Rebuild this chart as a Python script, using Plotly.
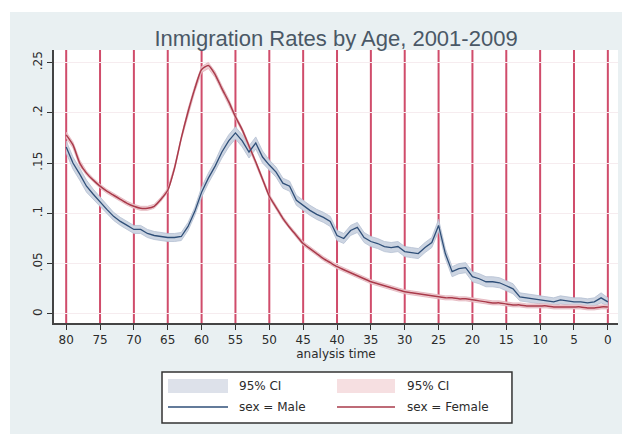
import plotly.graph_objects as go

# Age (analysis time), counting down from 80 to 0
ages = list(range(80, -1, -1))

# Immigration rate, males (ages 80 .. 0)
male_rate = [
    0.166, 0.150, 0.139, 0.127, 0.119, 0.111, 0.104, 0.097, 0.092, 0.088,
    0.084, 0.084, 0.080, 0.078, 0.077, 0.076, 0.076, 0.077, 0.087, 0.102,
    0.121, 0.135, 0.147, 0.161, 0.172, 0.180, 0.172, 0.161, 0.170, 0.156,
    0.148, 0.141, 0.130, 0.127, 0.113, 0.108, 0.103, 0.099, 0.096, 0.092,
    0.078, 0.075, 0.083, 0.086, 0.076, 0.072, 0.070, 0.067, 0.066, 0.067,
    0.062, 0.061, 0.060, 0.066, 0.071, 0.088, 0.060, 0.042, 0.045, 0.046,
    0.037, 0.035, 0.032, 0.032, 0.031, 0.028, 0.025, 0.017, 0.016, 0.015,
    0.014, 0.013, 0.012, 0.014, 0.013, 0.012, 0.012, 0.011, 0.012, 0.016,
    0.012,
]

# Half-width of the male 95% confidence interval (ages 80 .. 0)
male_ci_half = [
    0.006, 0.006, 0.006, 0.006, 0.005, 0.005, 0.004, 0.004, 0.004, 0.004,
    0.004, 0.004, 0.004, 0.004, 0.004, 0.004, 0.004, 0.004, 0.004, 0.004,
    0.005, 0.005, 0.005, 0.006, 0.006, 0.006, 0.006, 0.006, 0.006, 0.006,
    0.005, 0.005, 0.005, 0.005, 0.005, 0.005, 0.005, 0.005, 0.005, 0.005,
    0.005, 0.005, 0.005, 0.005, 0.005, 0.005, 0.005, 0.005, 0.005, 0.005,
    0.005, 0.005, 0.005, 0.005, 0.005, 0.006, 0.005, 0.005, 0.005, 0.005,
    0.005, 0.005, 0.005, 0.005, 0.005, 0.005, 0.005, 0.004, 0.004, 0.004,
    0.004, 0.004, 0.004, 0.004, 0.004, 0.004, 0.004, 0.004, 0.004, 0.005,
    0.004,
]

# Immigration rate, females (ages 80 .. 0)
female_rate = [
    0.178, 0.168, 0.150, 0.140, 0.133, 0.127, 0.122, 0.118, 0.114, 0.110,
    0.107, 0.105, 0.105, 0.107, 0.114, 0.123, 0.145, 0.175, 0.201, 0.224,
    0.243, 0.247, 0.238, 0.224, 0.211, 0.196, 0.183, 0.167, 0.151, 0.134,
    0.117, 0.106, 0.095, 0.086, 0.078, 0.070, 0.065, 0.060, 0.055, 0.051,
    0.047, 0.044, 0.041, 0.038, 0.035, 0.032, 0.030, 0.028, 0.026, 0.024,
    0.022, 0.021, 0.020, 0.019, 0.018, 0.017, 0.016, 0.016, 0.015, 0.015,
    0.014, 0.013, 0.012, 0.011, 0.011, 0.010, 0.009, 0.009, 0.008, 0.008,
    0.008, 0.008, 0.007, 0.007, 0.007, 0.007, 0.007, 0.006, 0.006, 0.007,
    0.007,
]

# Half-width of the female 95% confidence interval (ages 80 .. 0)
female_ci_half = [
    0.003, 0.003, 0.003, 0.002, 0.002, 0.002, 0.002, 0.002, 0.002, 0.002,
    0.002, 0.002, 0.002, 0.002, 0.002, 0.002, 0.002, 0.002, 0.003, 0.003,
    0.003, 0.003, 0.003, 0.003, 0.003, 0.002, 0.002, 0.002, 0.002, 0.002,
    0.002, 0.002, 0.002, 0.002, 0.002, 0.002, 0.002, 0.002, 0.002, 0.002,
    0.002, 0.002, 0.002, 0.002, 0.002, 0.002, 0.002, 0.002, 0.002, 0.002,
    0.002, 0.002, 0.002, 0.002, 0.002, 0.002, 0.002, 0.002, 0.002, 0.002,
    0.002, 0.002, 0.002, 0.002, 0.002, 0.002, 0.002, 0.002, 0.002, 0.002,
    0.002, 0.002, 0.002, 0.002, 0.002, 0.002, 0.002, 0.002, 0.002, 0.002,
    0.002,
]

x_ticks = list(range(80, -1, -5))
y_ticks = [0, 0.05, 0.10, 0.15, 0.20, 0.25]
y_tick_text = ["0", ".05", ".1", ".15", ".2", ".25"]

MALE_LINE = "#2f4f78"
MALE_BAND = "#cdd5e2"
FEMALE_LINE = "#a93a4a"
FEMALE_BAND = "#efcdd2"
LEGEND_MALE_BAND = "#dde1ea"
LEGEND_FEMALE_BAND = "#f6dfe1"
VLINE = "#d04c6b"
TITLE_FONT = "Liberation Sans, Arial, sans-serif"
FONT = "DejaVu Sans, sans-serif"
TEXT = "#2b2b2b"


def band(x, mid, half, fill, edge):
    lo = [m - h for m, h in zip(mid, half)]
    hi = [m + h for m, h in zip(mid, half)]
    return go.Scatter(
        x=list(x) + list(x)[::-1],
        y=hi + lo[::-1],
        fill="toself",
        fillcolor=fill,
        line=dict(color=edge, width=0.8),
        mode="lines",
        hoverinfo="skip",
        showlegend=False,
    )


fig = go.Figure()

fig.add_trace(band(ages, male_rate, male_ci_half, MALE_BAND, "#b4bfd2"))
fig.add_trace(band(ages, female_rate, female_ci_half, FEMALE_BAND, "#e2b3bb"))
fig.add_trace(go.Scatter(x=ages, y=female_rate, mode="lines",
                         line=dict(color=FEMALE_LINE, width=1.5, shape="spline", smoothing=0.6),
                         name="sex = Female", showlegend=False))
fig.add_trace(go.Scatter(x=ages, y=male_rate, mode="lines",
                         line=dict(color=MALE_LINE, width=1.3),
                         name="sex = Male", showlegend=False))

fig.update_layout(
    width=622,
    height=434,
    margin=dict(l=54, r=4, t=50, b=111),
    paper_bgcolor="#e9f0f2",
    plot_bgcolor="white",
    font=dict(family=FONT, color=TEXT),
    title=dict(text="Inmigration Rates by Age, 2001-2009", x=0.5, xref="paper",
               y=0.912, yref="container", yanchor="middle", xanchor="center",
               font=dict(family=TITLE_FONT, size=22, color="#4a5866")),
    xaxis=dict(
        range=[81.8, -1.5], tickmode="array", tickvals=x_ticks,
        ticks="outside", ticklen=5, tickwidth=1.2, tickcolor="#333",
        showline=True, linecolor="#444", linewidth=1.5, mirror=False,
        showgrid=False, zeroline=False,
        tickfont=dict(family=FONT, size=12, color=TEXT),
        title=dict(text="analysis time", standoff=0,
                   font=dict(family=FONT, size=12, color=TEXT)),
    ),
    yaxis=dict(
        range=[-0.009, 0.2624], tickmode="array", tickvals=y_ticks, ticktext=y_tick_text,
        tickangle=-90, ticks="outside", ticklen=5, tickwidth=1.2, tickcolor="#333",
        showline=True, linecolor="#444", linewidth=1.5,
        showgrid=True, gridcolor="#f6ecef", gridwidth=1, zeroline=False,
        tickfont=dict(family=FONT, size=12, color=TEXT),
    ),
    showlegend=False,
)

# vertical reference lines at every labelled age
for t in x_ticks:
    fig.add_vline(x=t, line=dict(color=VLINE, width=2), layer="below")

# white strips along the top and left edge of the page
fig.add_shape(type="rect", xref="paper", yref="paper", x0=-0.2, x1=1.2,
              y0=1.139, y1=1.3, fillcolor="white", line=dict(width=0), layer="above")
fig.add_shape(type="rect", xref="paper", yref="paper", x0=-0.2, x1=-0.078,
              y0=-0.5, y1=1.3, fillcolor="white", line=dict(width=0), layer="above")

# legend box
fig.add_shape(type="rect", xref="paper", yref="paper", x0=0.1915, x1=0.812,
              y0=-0.366, y1=-0.1795, fillcolor="white",
              line=dict(color="#333333", width=1.5), layer="above")
legend_rows = [
    (0.2021, 0.3085, 0.3245, LEGEND_MALE_BAND, MALE_LINE, "sex = Male"),
    (0.5018, 0.6046, 0.6223, LEGEND_FEMALE_BAND, FEMALE_LINE, "sex = Female"),
]
for x0, x1, xt, bandc, linec, label in legend_rows:
    fig.add_shape(type="rect", xref="paper", yref="paper", x0=x0, x1=x1,
                  y0=-0.2564, y1=-0.2051, fillcolor=bandc, line=dict(width=0), layer="above")
    fig.add_shape(type="line", xref="paper", yref="paper", x0=x0, x1=x1,
                  y0=-0.3077, y1=-0.3077, line=dict(color=linec, width=1.3), layer="above")
    fig.add_annotation(xref="paper", yref="paper", x=xt, y=-0.2308, text="95% CI",
                       showarrow=False, xanchor="left", yanchor="middle",
                       font=dict(family=FONT, size=12, color=TEXT))
    fig.add_annotation(xref="paper", yref="paper", x=xt, y=-0.3077, text=label,
                       showarrow=False, xanchor="left", yanchor="middle",
                       font=dict(family=FONT, size=12, color=TEXT))

fig.write_html("out.html")
